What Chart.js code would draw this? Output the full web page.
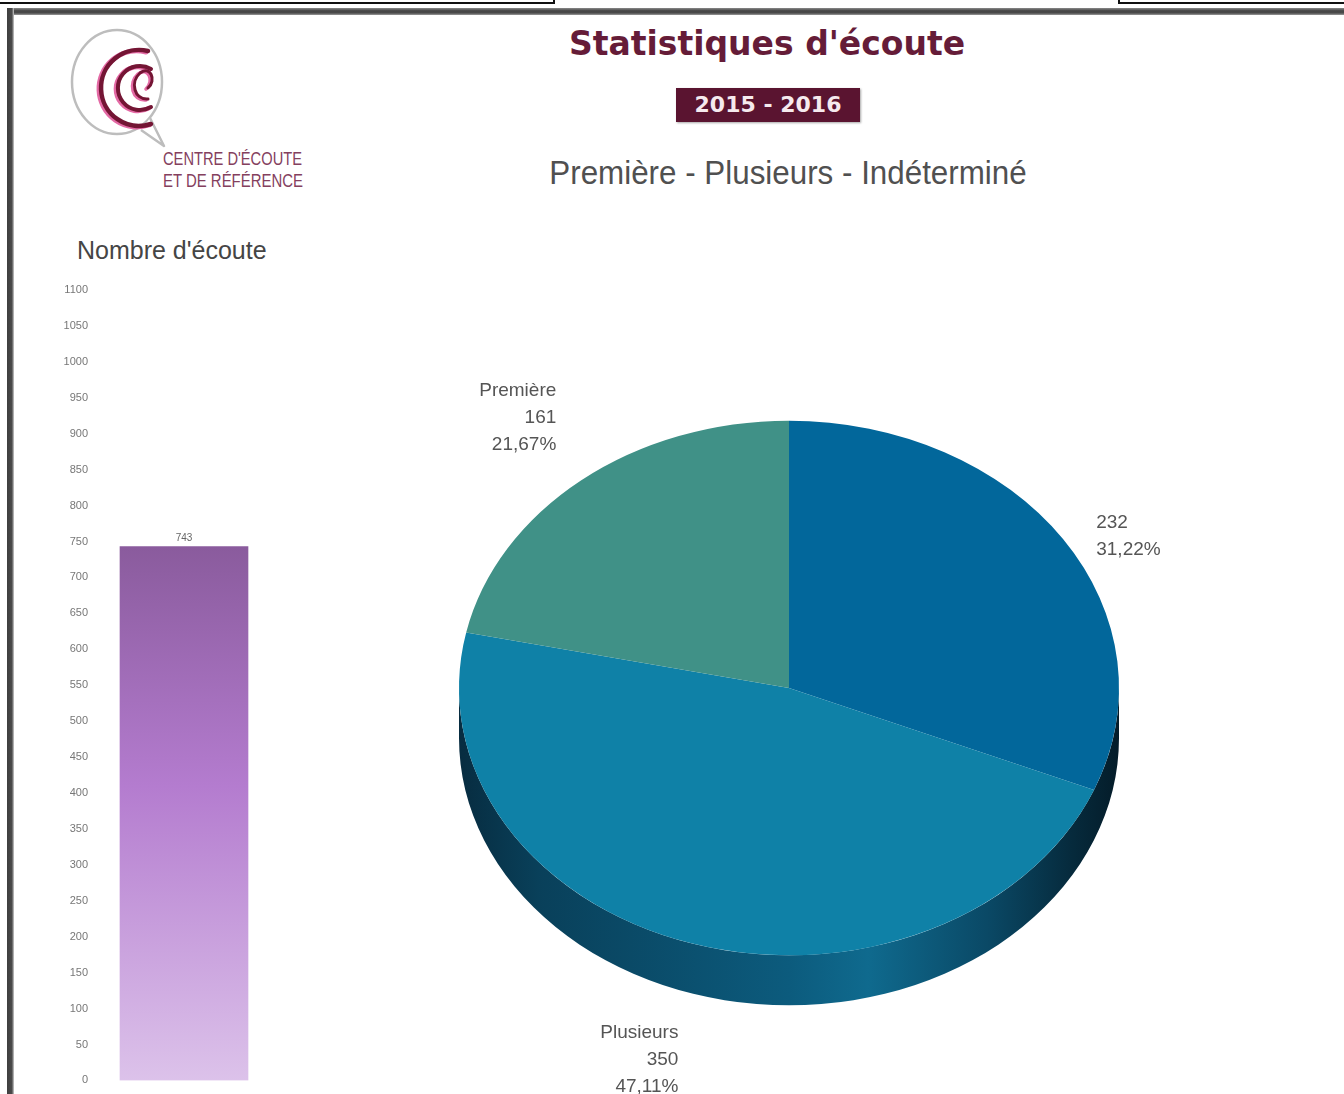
<!DOCTYPE html>
<html lang="fr">
  <head>
    <meta charset="UTF-8" />
    <title>Statistiques d'écoute</title>
    <script src="https://cdn.jsdelivr.net/npm/chart.js"></script>
    <style>
      html, body { margin: 0; padding: 0; background: #fff; }
      body { width: 1344px; height: 1094px; position: relative; overflow: hidden; font-family: "Liberation Sans", Arial, sans-serif; }
      .abs { position: absolute; }
      #titre { left: 767px; top: 25px; transform: translateX(-50%); white-space: nowrap;
        font: bold 33px "DejaVu Sans", Verdana, sans-serif; color: #651c38; line-height: 38px; }
      #annee { left: 676px; top: 88px; width: 184px; height: 34px; background: #5a1430;
        color: #f6eaee; font: bold 22px "DejaVu Sans", Verdana, sans-serif; line-height: 34px; text-align: center;
        box-shadow: 1px 1px 2px rgba(0,0,0,0.35); }
      #sousTitre { left: 788px; top: 153px; transform: translateX(-50%) scaleX(0.95); white-space: nowrap;
        font-size: 33px; color: #505050; line-height: 40px; }
      #nombre { left: 77px; top: 235px; font-size: 25px; color: #454545; line-height: 30px; white-space: nowrap; }
      #barres { left: 40px; top: 270px; }
      #camembert { left: 380px; top: 340px; }
    </style>
  </head>
  <body>
    <!-- cadre de la page -->
    <div class="abs" style="left:0;top:0;width:553px;height:2px;border-right:2px solid #111;border-bottom:2px solid #111;"></div>
    <div class="abs" style="left:1118px;top:0;width:226px;height:2px;border-left:2px solid #111;border-bottom:2px solid #111;"></div>
    <div class="abs" style="left:7px;top:8px;width:1337px;height:7px;background:linear-gradient(#8a8a8a,#454545 40%,#4a4a4a 70%,#9a9a9a);"></div>
    <div class="abs" style="left:7px;top:8px;width:7px;height:1086px;background:linear-gradient(90deg,#3f3f3f,#4a4a4a 70%,#cfcfcf);"></div>

    <!-- logo -->
    <svg class="abs" style="left:0;top:0" width="330" height="230" viewBox="0 0 330 230">
      <ellipse cx="117" cy="82" rx="45" ry="52" fill="none" stroke="#bdbdbd" stroke-width="2.5" />
      <path d="M 150 118 L 164 146 L 141 130" fill="#fff" stroke="#bdbdbd" stroke-width="2.5" stroke-linejoin="round" />
      <g fill="none" stroke-linecap="round" transform="translate(-2,1)">
        <path d="M 148 51 A 38 38 0 1 0 151 124" stroke="#e46aa5" stroke-width="5" />
        <path d="M 151 69 A 22 22 0 1 0 151 107" stroke="#e46aa5" stroke-width="4.5" />
        <path d="M 148 99 C 134 100, 130 82, 140 73 C 150 65, 157 80, 148 88" stroke="#e46aa5" stroke-width="3.5" />
      </g>
      <g fill="none" stroke-linecap="round">
        <path d="M 148 51 A 38 38 0 1 0 151 124" stroke="#741534" stroke-width="4.5" />
        <path d="M 151 69 A 22 22 0 1 0 151 107" stroke="#741534" stroke-width="4" />
        <path d="M 148 99 C 134 100, 130 82, 140 73 C 150 65, 157 80, 148 88" stroke="#741534" stroke-width="3" />
      </g>
      <text x="163" y="165" font-family="Liberation Sans" font-size="18" fill="#84405e" textLength="139" lengthAdjust="spacingAndGlyphs">CENTRE D'ÉCOUTE</text>
      <text x="163" y="187" font-family="Liberation Sans" font-size="18" fill="#84405e" textLength="140" lengthAdjust="spacingAndGlyphs">ET DE RÉFÉRENCE</text>
    </svg>

    <div id="titre" class="abs">Statistiques d'écoute</div>
    <div id="annee" class="abs">2015 - 2016</div>
    <div id="sousTitre" class="abs">Première - Plusieurs - Indéterminé</div>
    <div id="nombre" class="abs">Nombre d'écoute</div>

    <canvas id="barres" class="abs" width="240" height="827"></canvas>
    <canvas id="camembert" class="abs" width="820" height="754"></canvas>

    <script>
      // nombre total d'écoutes
      const barCategories = ["Total"];
      const barValues = [743];
      const barTicks = { min: 0, max: 1100, step: 50 };

      // répartition : dans l'ordre des parts, à partir de midi, sens horaire
      const sliceNames = ["Indéterminé", "Plusieurs", "Première"];
      const sliceValues = [232, 350, 161];
      const sliceColors = ["#02679b", "#0f81a7", "#409187"];

      // valeur écrite au-dessus de la barre
      const barValueLabel = {
        id: "barValueLabel",
        afterDatasetsDraw(chart) {
          const ctx = chart.ctx;
          const meta = chart.getDatasetMeta(0);
          ctx.save();
          ctx.font = "10px 'Liberation Sans'";
          ctx.fillStyle = "#666";
          ctx.textAlign = "center";
          ctx.textBaseline = "bottom";
          meta.data.forEach((bar, i) => {
            ctx.fillText(String(chart.data.datasets[0].data[i]), bar.x, bar.y - 3);
          });
          ctx.restore();
        },
      };

      new Chart(document.getElementById("barres"), {
        type: "bar",
        data: {
          labels: barCategories,
          datasets: [
            {
              data: barValues,
              barThickness: 128,
              borderWidth: 0,
              backgroundColor(c) {
                const chart = c.chart;
                const area = chart.chartArea;
                if (!area) return "#a878c4";
                const top = chart.scales.y.getPixelForValue(barValues[0]);
                const g = chart.ctx.createLinearGradient(0, top, 0, area.bottom);
                g.addColorStop(0, "#8a5b9d");
                g.addColorStop(0.45, "#b47ccf");
                g.addColorStop(1, "#dcc2ea");
                return g;
              },
            },
          ],
        },
        options: {
          responsive: false,
          animation: false,
          layout: { padding: { top: 20, bottom: 0, right: 10 } },
          plugins: { legend: { display: false }, tooltip: { enabled: false } },
          scales: {
            x: { display: false },
            y: {
              min: barTicks.min,
              max: barTicks.max,
              afterFit(scale) {
                scale.width = 58;
              },
              grid: { display: false, drawTicks: false },
              border: { display: false },
              ticks: {
                stepSize: barTicks.step,
                autoSkip: false,
                padding: 10,
                color: "#777",
                font: { family: "'Liberation Sans'", size: 11 },
                callback: (v) => String(v),
              },
            },
          },
        },
        plugins: [barValueLabel],
      });

      // camembert incliné : tranche sombre dessous, puis écrasement vertical des parts
      const pie3d = {
        id: "pie3d",
        beforeDatasetsDraw(chart, args, opts) {
          const arc = chart.getDatasetMeta(0).data[0];
          const { x, y, outerRadius: r } = arc;
          const ctx = chart.ctx;
          const ry = r * opts.tilt;
          ctx.save();
          const g = ctx.createLinearGradient(x - r, 0, x + r, 0);
          g.addColorStop(0, "#072c40");
          g.addColorStop(0.12, "#09405a");
          g.addColorStop(0.5, "#0c5b7d");
          g.addColorStop(0.62, "#0f6a8e");
          g.addColorStop(0.8, "#0a4966");
          g.addColorStop(0.93, "#062a3c");
          g.addColorStop(1, "#041c29");
          ctx.fillStyle = g;
          ctx.beginPath();
          ctx.ellipse(x, y, r, ry, 0, 0, Math.PI);
          ctx.ellipse(x, y + opts.depth, r, ry, 0, Math.PI, 0, true);
          ctx.closePath();
          ctx.fill();
          ctx.restore();

          ctx.save();
          ctx.translate(0, y);
          ctx.scale(1, opts.tilt);
          ctx.translate(0, -y);
        },
        afterDatasetsDraw(chart) {
          chart.ctx.restore();
        },
      };

      // étiquettes : nom, nombre, pourcentage
      const sliceLabels = {
        id: "sliceLabels",
        afterDraw(chart, args, opts) {
          const ctx = chart.ctx;
          const meta = chart.getDatasetMeta(0);
          const values = chart.data.datasets[0].data;
          const total = values.reduce((a, b) => a + b, 0);
          const tilt = chart.options.plugins.pie3d.tilt;
          const depth = chart.options.plugins.pie3d.depth;
          ctx.save();
          ctx.font = opts.font;
          ctx.fillStyle = opts.color;
          ctx.textBaseline = "middle";
          meta.data.forEach((arc, i) => {
            const mid = (arc.startAngle + arc.endAngle) / 2;
            const ex = arc.x + arc.outerRadius * Math.cos(mid);
            let ey = arc.y + arc.outerRadius * tilt * Math.sin(mid);
            if (Math.sin(mid) > 0) ey += depth;
            const lines = [];
            if (!opts.hideName.includes(i)) lines.push(chart.data.labels[i]);
            lines.push(String(values[i]));
            lines.push(((values[i] / total) * 100).toFixed(2).replace(".", ",") + "%");
            ctx.textAlign = Math.cos(mid) < 0 ? "right" : "left";
            const n = opts.nudge[i];
            const y0 = ey + n.dy - ((lines.length - 1) * opts.lineHeight) / 2;
            lines.forEach((t, j) => ctx.fillText(t, ex + n.dx, y0 + j * opts.lineHeight));
          });
          ctx.restore();
        },
      };

      new Chart(document.getElementById("camembert"), {
        type: "pie",
        data: {
          labels: sliceNames,
          datasets: [
            {
              data: sliceValues,
              backgroundColor: sliceColors,
              borderWidth: 0,
              hoverOffset: 0,
            },
          ],
        },
        options: {
          responsive: false,
          animation: false,
          layout: { padding: { left: 79, right: 81, top: 18, bottom: 76 } },
          plugins: {
            legend: { display: false },
            tooltip: { enabled: false },
            pie3d: { tilt: 0.81, depth: 50 },
            sliceLabels: {
              font: "19px 'Liberation Sans'",
              color: "#555",
              lineHeight: 27,
              hideName: [0],
              nudge: [
                { dx: 33, dy: -3 },
                { dx: -13, dy: 66 },
                { dx: -25, dy: -63 },
              ],
            },
          },
        },
        plugins: [pie3d, sliceLabels],
      });
    </script>
  </body>
</html>
